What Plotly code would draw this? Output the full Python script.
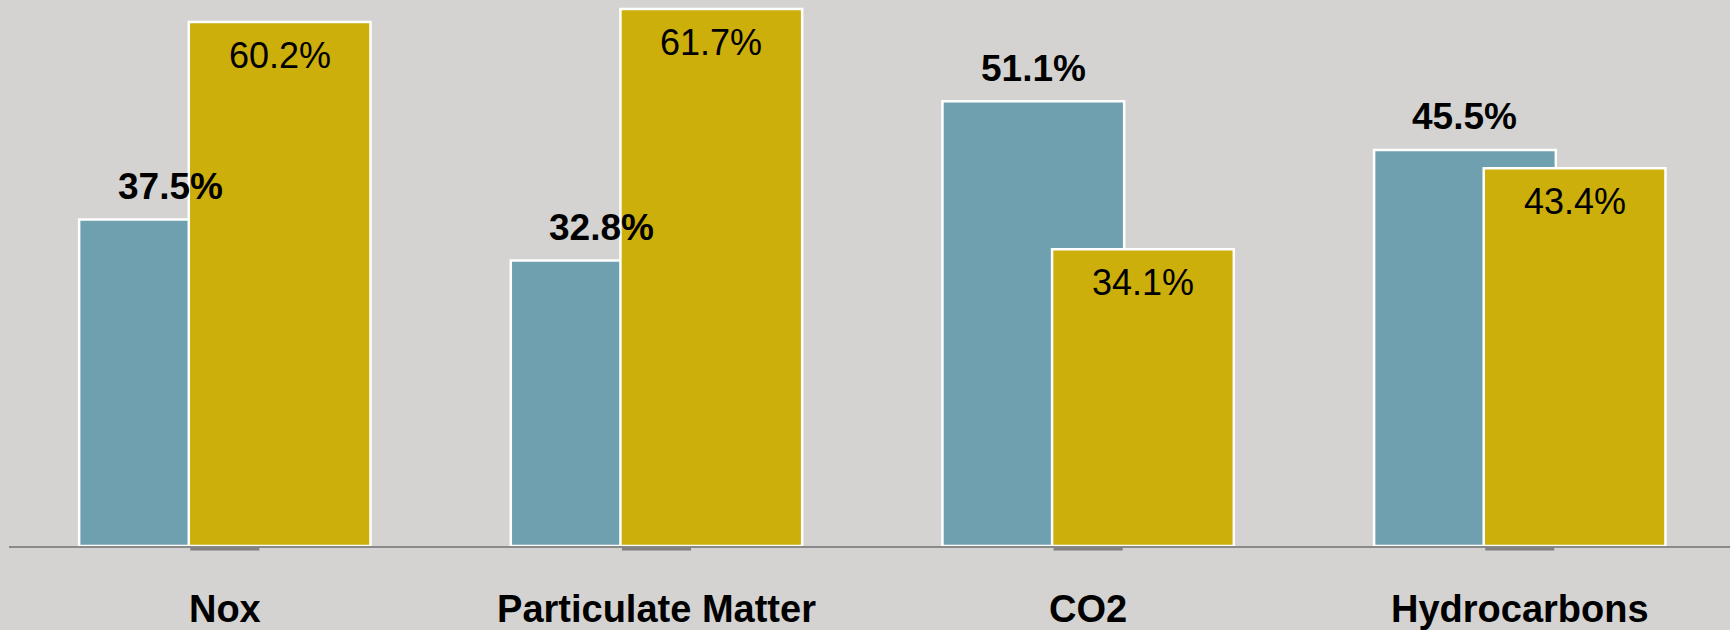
import plotly.graph_objects as go

# Emission categories and percentage values for the two series
categories = ["Nox", "Particulate Matter", "CO2", "Hydrocarbons"]
series_a = [37.5, 32.8, 51.1, 45.5]   # teal bars, bold labels above
series_b = [60.2, 61.7, 34.1, 43.4]   # gold bars, labels inside the top

TEAL = "#6FA0B0"
GOLD = "#CCAF0A"
BG = "#D4D3D1"
FONT = "Liberation Sans, Arial, sans-serif"

BAR_W = 0.421      # bar width in category units
SHIFT = 0.127      # half the distance between the two overlapping bars

idx = list(range(len(categories)))

fig = go.Figure()
fig.add_trace(go.Bar(
    x=idx, y=series_a, width=BAR_W, offset=-SHIFT - BAR_W / 2,
    marker=dict(color=TEAL, line=dict(color="white", width=2.5)),
    hoverinfo="skip", showlegend=False,
))
fig.add_trace(go.Bar(
    x=idx, y=series_b, width=BAR_W, offset=SHIFT - BAR_W / 2,
    marker=dict(color=GOLD, line=dict(color="white", width=2.5)),
    hoverinfo="skip", showlegend=False,
))

annotations = []
for i, (a, b) in enumerate(zip(series_a, series_b)):
    annotations.append(dict(
        x=i - SHIFT, y=a, xref="x", yref="y", text=f"{a:.1f}%",
        showarrow=False, yanchor="middle", yshift=33,
        font=dict(family=FONT, size=37, color="#000000", weight="bold"),
    ))
    annotations.append(dict(
        x=i + SHIFT, y=b, xref="x", yref="y", text=f"{b:.1f}%",
        showarrow=False, yanchor="middle", yshift=-33.5,
        font=dict(family=FONT, size=36, color="#000000"),
    ))

# short grey marks just under the baseline at each category
shapes = [
    dict(type="line", xref="x", yref="paper", x0=i - 0.08, x1=i + 0.08,
         y0=-0.0055, y1=-0.0055, line=dict(color="#808080", width=3), layer="above")
    for i in idx
]

fig.update_layout(
    width=1730, height=630,
    margin=dict(l=9, r=0, t=0, b=84),
    paper_bgcolor=BG, plot_bgcolor=BG,
    barmode="overlay",
    annotations=annotations,
    shapes=shapes,
    xaxis=dict(
        tickmode="array", tickvals=idx, ticktext=categories,
        range=[-0.5, 3.487], showgrid=False, zeroline=False,
        showline=True, linecolor="#8A8A8A", linewidth=2,
        ticks="", ticklabelstandoff=28, layer="below traces",
        tickfont=dict(family=FONT, size=38, color="#000000", weight="bold"),
    ),
    yaxis=dict(range=[0, 62.73], visible=False, showgrid=False, zeroline=False),
)

fig.write_html("out.html")
